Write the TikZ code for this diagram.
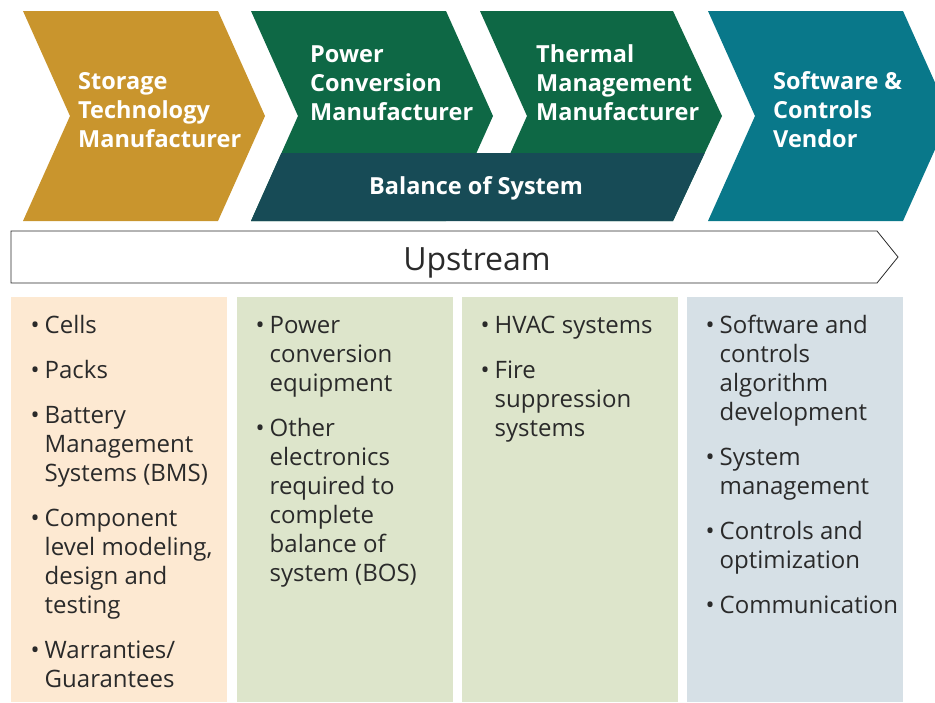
\documentclass[tikz,border=0pt]{standalone}
\usepackage{fontspec}
\setmainfont{Open Sans}
\definecolor{gold}{HTML}{C9952D}
\definecolor{pgreen}{HTML}{0E6845}
\definecolor{bos}{HTML}{174B56}
\definecolor{steal}{HTML}{09788A}
\definecolor{peach}{HTML}{FDE9D2}
\definecolor{lgreen}{HTML}{DDE5CB}
\definecolor{lblue}{HTML}{D6E0E6}
\definecolor{ink}{HTML}{2A2A2A}
\newcommand{\stack}[1]{\begin{tabular}[t]{@{}l@{}}#1\end{tabular}}
\newcommand{\blist}[1]{\begin{tabular}[t]{@{}l@{}l@{}}#1\end{tabular}}
\newcommand{\bu}{\makebox[14pt][l]{•}}
\begin{document}
\begin{tikzpicture}[x=1pt,y=-1pt,
  head/.style={anchor=base west, inner sep=0pt, text=white, font=\fontsize{23.5}{29}\selectfont\bfseries},
  listtext/.style={anchor=base west, inner sep=0pt, text=ink, font=\fontsize{24}{29}\selectfont}]
\useasboundingbox (0,0) rectangle (935,702);
\clip (0,0) rectangle (935,702);
% chevrons
\fill[gold] (23,11) -- (218,11) -- (265,116) -- (218,221) -- (23,221) -- (70,116) -- cycle;
\fill[pgreen] (251,11) -- (446,11) -- (493,116) -- (446,221) -- (251,221) -- (298,116) -- cycle;
\fill[pgreen] (480,11) -- (673,11) -- (722,116) -- (673,221) -- (480,221) -- (527,116) -- cycle;
\fill[bos] (281.4,153) -- (704.7,153) -- (673,221) -- (251,221) -- cycle;
\fill[steal] (708,11) -- (903,11) -- (950,116) -- (903,221) -- (708,221) -- (755,116) -- cycle;
\node[head] (storage) at (78,89) {\stack{Storage\\Technology\\Manufacturer}};
\node[head] (power) at (310,62) {\stack{Power\\Conversion\\Manufacturer}};
\node[head] (thermal) at (536,62) {\stack{Thermal\\Management\\Manufacturer}};
\node[head] (software) at (773,89) {\stack{Software \&\\Controls\\Vendor}};
\node[head, anchor=base] (balance) at (476,194) {Balance of System};
% upstream arrow
\draw[ink, line width=0.8pt, fill=white] (11,231) -- (877,231) -- (898,257) -- (877,283) -- (11,283) -- cycle;
\node[anchor=base, inner sep=0pt, text=ink, font=\fontsize{32}{36}\selectfont] (upstream) at (477,270) {Upstream};
% columns
\fill[peach] (11,297) rectangle (227,702);
\fill[lgreen] (237,297) rectangle (453,702);
\fill[lgreen] (462,297) rectangle (678,702);
\fill[lblue] (687,297) rectangle (903,702);
\node[listtext] (list1) at (30.5,333) {\blist{%
\bu&Cells\\[16pt]
\bu&Packs\\[16pt]
\bu&Battery\\&Management\\&Systems (BMS)\\[16pt]
\bu&Component\\&level modeling,\\&design and\\&testing\\[16pt]
\bu&Warranties/\\&Guarantees}};
\node[listtext] (list2) at (255.5,333) {\blist{%
\bu&Power\\&conversion\\&equipment\\[16pt]
\bu&Other\\&electronics\\&required to\\&complete\\&balance of\\&system (BOS)}};
\node[listtext] (list3) at (480.5,333) {\blist{%
\bu&HVAC systems\\[16pt]
\bu&Fire\\&suppression\\&systems}};
\node[listtext] (list4) at (705.5,333) {\blist{%
\bu&Software and\\&controls\\&algorithm\\&development\\[16pt]
\bu&System\\&management\\[16pt]
\bu&Controls and\\&optimization\\[16pt]
\bu&Communication}};
\end{tikzpicture}
\end{document}
